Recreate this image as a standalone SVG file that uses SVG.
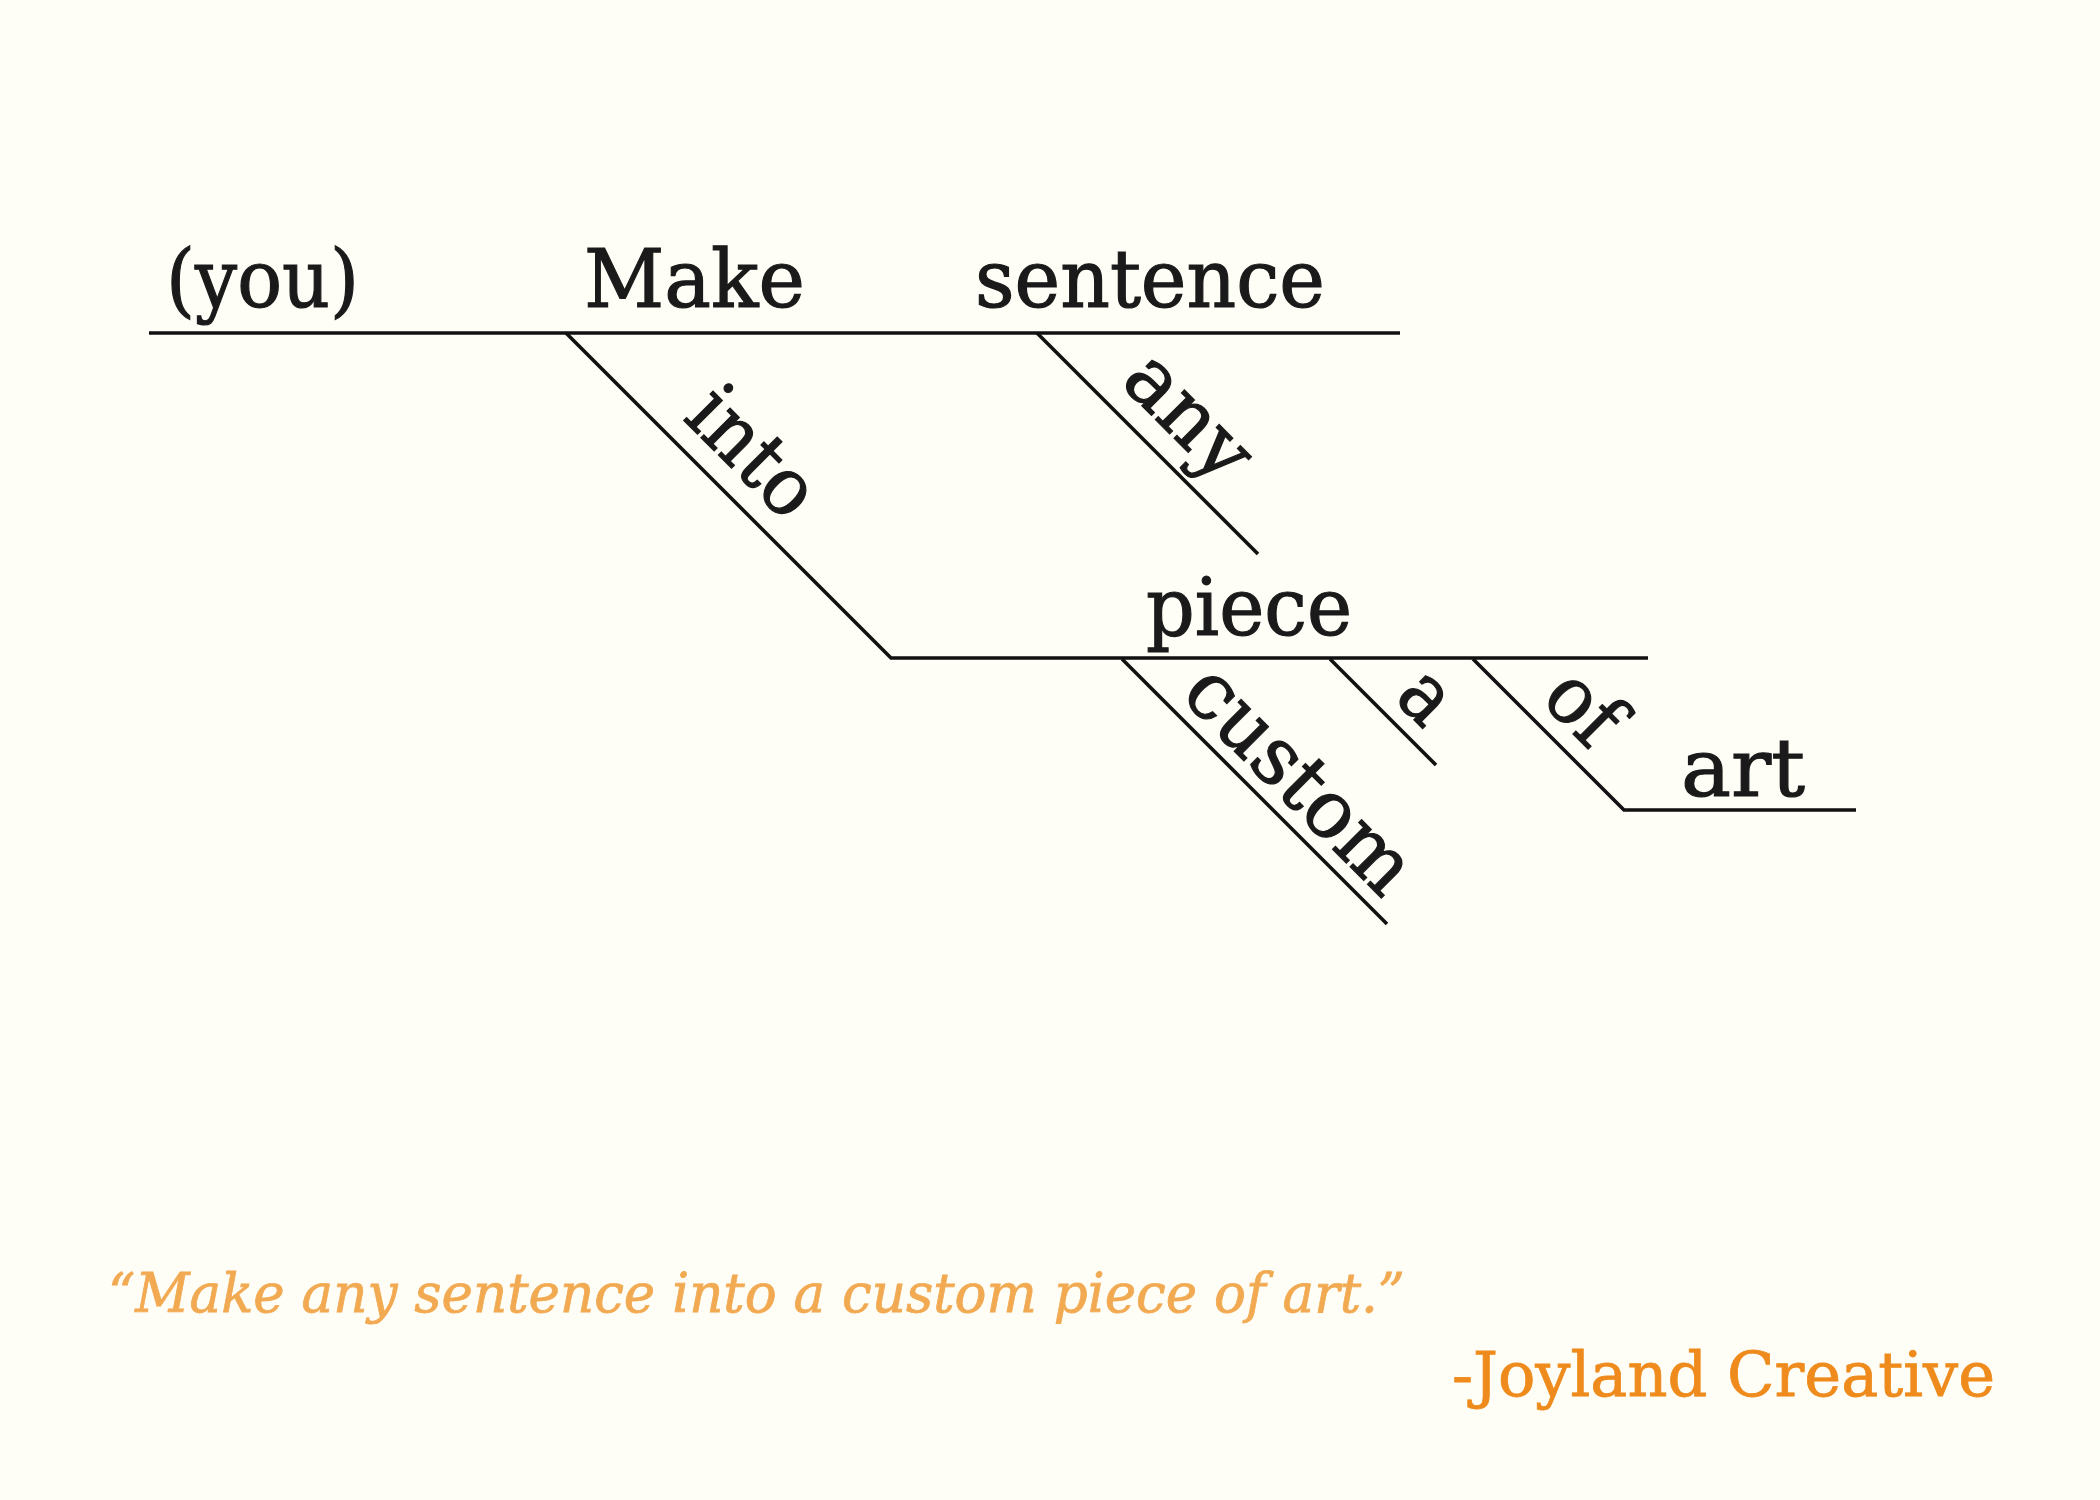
<svg xmlns="http://www.w3.org/2000/svg" width="2100" height="1500" viewBox="0 0 2100 1500">
  <style>
    .w { font-family: "DejaVu Serif", "Liberation Serif", serif; font-size: 80px; fill: #1a1a1a; stroke: #1a1a1a; stroke-width: 1.2px; }
    .ln { fill: none; stroke: #111; stroke-width: 3.6; stroke-linecap: butt; stroke-linejoin: miter; }
    .quote { font-family: "DejaVu Serif", "Liberation Serif", serif; font-style: italic; font-size: 55px; fill: #F2AA52; stroke: #F2AA52; stroke-width: 0.8px; }
    .sig { font-family: "DejaVu Serif", "Liberation Serif", serif; font-size: 62px; fill: #EE8B1C; stroke: #EE8B1C; stroke-width: 0.8px; }
  </style>
  <rect x="0" y="0" width="2100" height="1500" fill="#FEFDF6"/>

  <g id="connectors">
    <path class="ln" d="M149 333 H1400"/>
    <path class="ln" d="M566 333 L891 658 H1648"/>
    <path class="ln" d="M1037 333 L1258 554"/>
    <path class="ln" d="M1122 659 L1387 924"/>
    <path class="ln" d="M1330 659 L1436 765"/>
    <path class="ln" d="M1473 659 L1624 810 H1856"/>
  </g>

  <g id="node-you"><text class="w" x="166" y="307" textLength="193" lengthAdjust="spacingAndGlyphs">(you)</text></g>
  <g id="node-make"><text class="w" x="584" y="307" textLength="221" lengthAdjust="spacingAndGlyphs">Make</text></g>
  <g id="node-sentence"><text class="w" x="975" y="307" textLength="350" lengthAdjust="spacingAndGlyphs">sentence</text></g>
  <g id="node-piece"><text class="w" x="1146" y="635" textLength="206" lengthAdjust="spacingAndGlyphs">piece</text></g>
  <g id="node-art"><text class="w" x="1681" y="796" textLength="124" lengthAdjust="spacingAndGlyphs">art</text></g>

  <g id="node-into" transform="translate(565,333) rotate(45)"><text class="w" x="143" y="-22" textLength="148" lengthAdjust="spacingAndGlyphs">into</text></g>
  <g id="node-any" transform="translate(1037,335) rotate(45)"><text class="w" x="92" y="-24" textLength="146" lengthAdjust="spacingAndGlyphs">any</text></g>
  <g id="node-custom" transform="translate(1122,660) rotate(45)"><text class="w" x="66" y="-15" textLength="288" lengthAdjust="spacingAndGlyphs">custom</text></g>
  <g id="node-a" transform="translate(1330,660) rotate(45)"><text class="w" x="72" y="-17" textLength="44" lengthAdjust="spacingAndGlyphs">a</text></g>
  <g id="node-of" transform="translate(1473,661) rotate(45)"><text class="w" x="75" y="-19" textLength="72" lengthAdjust="spacingAndGlyphs">of</text></g>

  <g id="caption">
    <text class="quote" x="108" y="1312" textLength="1297" lengthAdjust="spacingAndGlyphs">“Make any sentence into a custom piece of art.”</text>
    <text class="sig" x="1452" y="1396" textLength="543" lengthAdjust="spacingAndGlyphs">-Joyland Creative</text>
  </g>
</svg>
